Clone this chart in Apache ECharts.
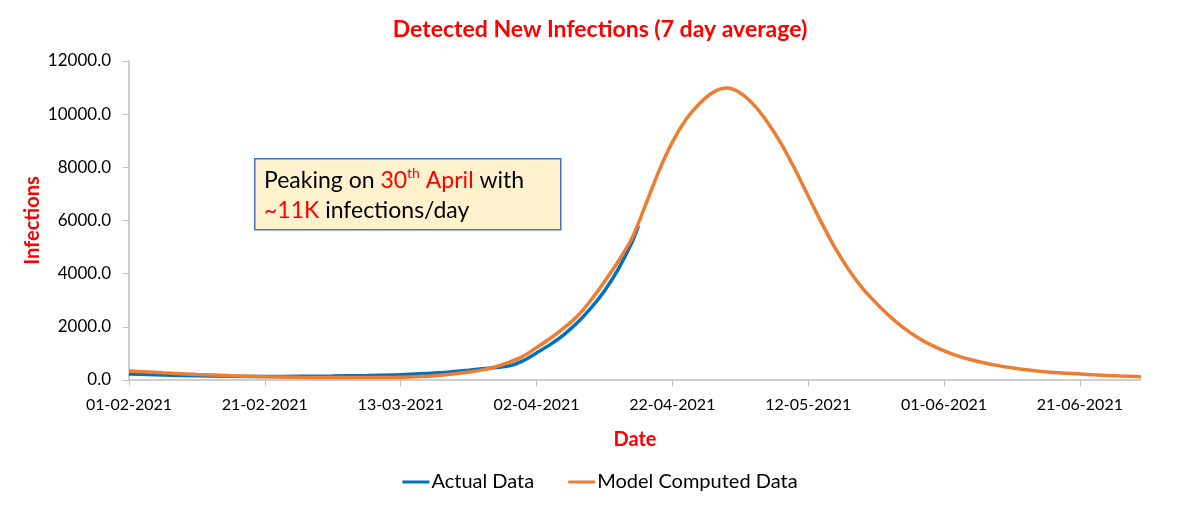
<!DOCTYPE html>
<html>
<head>
<meta charset="utf-8">
<script src="https://cdn.jsdelivr.net/npm/echarts@6/dist/echarts.min.js"></script>
<style>html,body{margin:0;padding:0;background:#fff}#c{width:1200px;height:508px}</style>
</head>
<body>
<div id="c"></div>
<script>
// day index counted from 01-02-2021
const tickDays = [0, 20, 40, 60, 80, 100, 120, 140];
const tickLabels = ['01-02-2021','21-02-2021','13-03-2021','02-04-2021','22-04-2021','12-05-2021','01-06-2021','21-06-2021'];

const actualDays   = [0,5,10,15,20,25,30,35,40,45,50,52,54,56,58,60,62,64,66,68,70,72,74,75];
const actualValues = [230,190,160,140,130,140,150,170,200,260,370,420,470,530,720,1020,1330,1700,2150,2700,3350,4150,5150,5800];

const modelDays   = [0,5,10,15,20,25,30,35,40,45,50,52,54,56,58,60,62,64,66,68,70,72,74,76,78,80,82,84,86,88,90,92,94,96,98,100,102,104,106,108,110,112,114,116,118,120,122,124,126,128,130,134,138,142,146,149];
const modelValues = [340,270,210,160,125,100,90,90,105,160,300,380,500,670,890,1220,1560,1950,2400,3000,3700,4450,5300,6550,7850,8950,9800,10400,10820,10980,10800,10350,9700,8900,7950,6920,5900,4950,4140,3450,2900,2400,1970,1620,1330,1100,910,760,640,540,460,330,250,195,150,120];

const pair = (xs, ys) => xs.map((x, i) => [x, ys[i]]);
const FONT = 'Lato';

const chart = echarts.init(document.getElementById('c'));
chart.setOption({
  animation: false,
  backgroundColor: '#fff',
  title: {
    text: 'Detected New Infections (7 day average)',
    left: 'center', top: 13,
    textStyle: {color: '#FF0000', fontSize: 23, fontWeight: 'bold', fontFamily: FONT}
  },
  grid: {left: 129, right: 59, top: 61, bottom: 128},
  legend: {
    bottom: 11, left: 'center', itemGap: 34, itemWidth: 27, itemHeight: 3,
    icon: 'rect',
    textStyle: {fontSize: 20, color: '#000', fontFamily: FONT, padding: [0, 0, 0, -3]},
    data: ['Actual Data', 'Model Computed Data']
  },
  xAxis: {
    type: 'value', min: 0, max: 149, interval: 20,
    name: 'Date', nameLocation: 'middle', nameGap: 50,
    nameTextStyle: {color: '#FF0000', fontSize: 20, fontWeight: 'bold', fontFamily: FONT},
    axisLine: {show: true, lineStyle: {color: '#BFBFBF', width: 1.5}},
    axisTick: {show: true, length: 6, lineStyle: {color: '#BFBFBF'}, customValues: tickDays},
    axisLabel: {
      customValues: tickDays, margin: 17, color: '#000', fontSize: 16, fontFamily: FONT,
      formatter: v => tickLabels[tickDays.indexOf(v)] || ''
    },
    splitLine: {show: false}
  },
  yAxis: {
    type: 'value', min: 0, max: 12000, interval: 2000,
    name: 'Infections', nameLocation: 'middle', nameGap: 86, nameRotate: 90,
    nameMoveOverlap: false,
    nameTextStyle: {color: '#FF0000', fontSize: 20, fontWeight: 'bold', fontFamily: FONT},
    axisLine: {show: true, lineStyle: {color: '#BFBFBF', width: 1.5}},
    axisTick: {show: true, length: 6, lineStyle: {color: '#BFBFBF'}},
    axisLabel: {margin: 18, color: '#000', fontSize: 17, fontFamily: FONT, formatter: v => v.toFixed(1)},
    splitLine: {show: false}
  },
  series: [
    {
      name: 'Actual Data', type: 'line', showSymbol: false, smooth: 0.3,
      data: pair(actualDays, actualValues),
      lineStyle: {color: '#0070C0', width: 3.5}, itemStyle: {color: '#0070C0'}, z: 2
    },
    {
      name: 'Model Computed Data', type: 'line', showSymbol: false, smooth: 0.3,
      data: pair(modelDays, modelValues),
      lineStyle: {color: '#ED7D31', width: 3.5}, itemStyle: {color: '#ED7D31'}, z: 3
    }
  ],
  graphic: [
    {
      type: 'rect', left: 254, top: 158, z: 10,
      shape: {width: 306, height: 71},
      style: {fill: '#FFF2CC', stroke: '#4472C4', lineWidth: 1.5}
    },
    {
      type: 'text', left: 264, top: 166, z: 11,
      style: {
        text: '{k|Peaking on }{r|30}{s|th}{r| April}{k| with}\n{r|~11K}{k| infections/day}',
        fontFamily: FONT, fontSize: 23, lineHeight: 30,
        rich: {
          k: {fill: '#000', fontSize: 23, fontFamily: FONT, lineHeight: 30},
          r: {fill: '#FF0000', fontSize: 23, fontFamily: FONT, lineHeight: 30},
          s: {fill: '#FF0000', fontSize: 14, fontFamily: FONT, verticalAlign: 'top', lineHeight: 30}
        }
      }
    }
  ]
});
</script>
</body>
</html>
